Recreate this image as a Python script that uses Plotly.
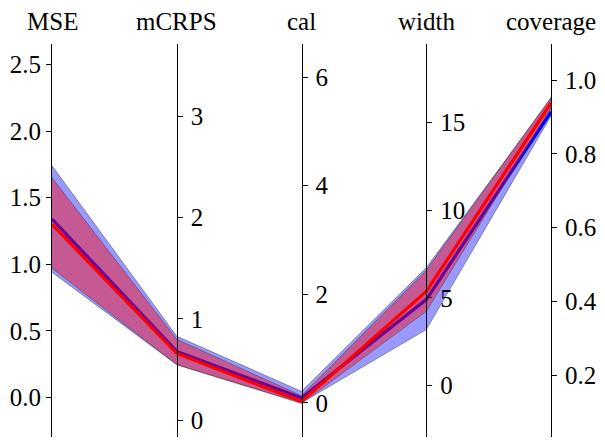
import plotly.graph_objects as go

metrics = ["MSE", "mCRPS", "cal", "width", "coverage"]

blue_mean = [1.34, 0.68, 0.09, 4.90, 0.914]
blue_low = [0.94, 0.55, 0.00, 3.19, 0.903]
blue_high = [1.74, 0.83, 0.21, 6.72, 0.950]

red_mean = [1.30, 0.66, 0.025, 5.37, 0.938]
red_low = [0.97, 0.55, -0.01, 4.23, 0.925]
red_high = [1.65, 0.80, 0.13, 6.57, 0.953]

axis_low = [-0.297, -0.163, -0.63, -2.94, 0.032]
axis_high = [2.654, 3.71, 6.61, 19.49, 1.098]
tick_step = [0.5, 1, 2, 5, 0.2]
tick_fmt = [".1f", "d", "d", "d", ".1f"]

FONT = "'Liberation Serif', 'Times New Roman', Times, serif"
n = len(metrics)
xs = list(range(n))


def to_host(vals):
    out = []
    for j, v in enumerate(vals):
        frac = (v - axis_low[j]) / (axis_high[j] - axis_low[j])
        out.append(axis_low[0] + frac * (axis_high[0] - axis_low[0]))
    return out


fig = go.Figure()


def add_group(mean, low, high, fill, line):
    hi = to_host(high)
    lo = to_host(low)
    fig.add_trace(go.Scatter(
        x=xs + xs[::-1], y=hi + lo[::-1], fill="toself",
        fillcolor=fill, mode="lines",
        line=dict(color="rgba(70,70,90,0.55)", width=1),
        hoverinfo="skip", showlegend=False))
    fig.add_trace(go.Scatter(
        x=xs, y=to_host(mean), mode="lines",
        line=dict(color=line, width=3.2), showlegend=False))


add_group(blue_mean, blue_low, blue_high, "rgba(0,0,255,0.4)", "#0000ff")
add_group(red_mean, red_low, red_high, "rgba(255,0,0,0.42)", "#ff0000")

# invisible traces so every metric axis is drawn
for j in range(1, n):
    fig.add_trace(go.Scatter(
        x=[j], y=[axis_low[j]], yaxis=f"y{j + 1}", mode="markers",
        marker=dict(opacity=0), hoverinfo="skip", showlegend=False))

axis_common = dict(
    showline=True, linecolor="black", linewidth=1,
    ticks="outside", ticklen=5, tickwidth=1, tickcolor="black",
    showgrid=False, zeroline=False, automargin=False,
    tickfont=dict(family=FONT, size=25, color="black"),
)

# page body has an 8px default margin, so the figure is sized to fit
layout = dict(
    width=597, height=438,
    margin=dict(l=44, r=54, t=36, b=9, autoexpand=False),
    paper_bgcolor="white", plot_bgcolor="white",
    font=dict(family=FONT, size=25, color="black"),
    xaxis=dict(range=[0, n - 1], visible=False, domain=[0, 1],
               automargin=False),
    showlegend=False,
)

for j in range(n):
    key = "yaxis" if j == 0 else f"yaxis{j + 1}"
    ax = dict(axis_common)
    ax.update(range=[axis_low[j], axis_high[j]], dtick=tick_step[j],
              tick0=0, tickformat=tick_fmt[j])
    if j == 0:
        ax.update(side="left", anchor="x")
    else:
        ax.update(side="right", overlaying="y", anchor="free",
                  position=j / (n - 1), ticklabelstandoff=3)
    layout[key] = ax

fig.update_layout(**layout)

for j, name in enumerate(metrics):
    fig.add_annotation(
        x=j, xref="x", y=1, yref="paper", yanchor="middle",
        yshift=23, text=name, showarrow=False,
        font=dict(family=FONT, size=25, color="black"))

fig.write_html("out.html")
